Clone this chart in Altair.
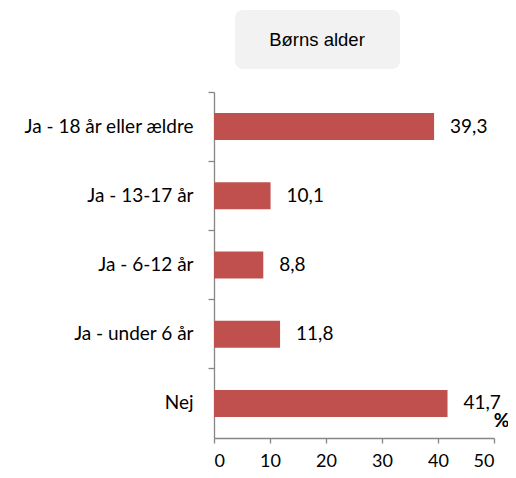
import altair as alt
import pandas as pd

categories = ["Ja - 18 år eller ældre", "Ja - 13-17 år", "Ja - 6-12 år", "Ja - under 6 år", "Nej"]
values = [39.3, 10.1, 8.8, 11.8, 41.7]
labels = [f"{v:.1f}".replace(".", ",") for v in values]
x_ticks = [0, 10, 20, 30, 40, 50]
title_text = "Børns alder"
axis_title = "%"

df = pd.DataFrame({"cat": categories, "val": values, "lab": labels})

FONT = "Lato"
AXC = "#868686"

base = alt.Chart(df)

bars = base.mark_bar(color="#c0504d", height=27).encode(
    y=alt.Y("cat:N", sort=categories,
            scale=alt.Scale(paddingInner=0, paddingOuter=0),
            axis=alt.Axis(title=None, bandPosition=0, labelFont=FONT, labelFontSize=19,
                          labelColor="#000000", labelPadding=15, tickSize=6, tickWidth=1.3,
                          domainWidth=1.3,
                          tickColor=AXC, domainColor=AXC, labelAlign="right")),
    x=alt.X("val:Q", scale=alt.Scale(domain=[0, 50], nice=False),
            axis=alt.Axis(values=x_ticks, grid=False, title=axis_title, titleX=287, titleY=-18,
                          titleFont=FONT, titleFontSize=19, titleFontWeight="bold",
                          titleBaseline="middle", titleAlign="center",
                          labelFont=FONT, labelFontSize=18, labelColor="#000000",
                          labelPadding=9, tickSize=5, tickWidth=1.3, domainWidth=1.3,
                          tickColor=AXC, domainColor=AXC)),
)

text = base.mark_text(align="left", baseline="middle", dx=16, font=FONT, fontSize=19,
                      color="#000000").encode(
    y=alt.Y("cat:N", sort=categories),
    x="val:Q",
    text="lab:N",
)

tdf = pd.DataFrame({"t": [title_text]})
box = alt.Chart(tdf).mark_rect(color="#f2f2f2", cornerRadius=8).encode(
    x=alt.value(21), x2=alt.value(186), y=alt.value(-82), y2=alt.value(-23)
)
ttext = alt.Chart(tdf).mark_text(font="Liberation Sans", fontSize=18.5, color="#000000",
                                 baseline="middle", align="center").encode(
    x=alt.value(103), y=alt.value(-52), text="t:N"
)

chart = alt.layer(bars, text, box, ttext).properties(
    width=280, height=346,
    autosize=alt.AutoSizeParams(type="none"),
    padding={"left": 206, "top": 84, "right": 14, "bottom": 32},
).configure_view(stroke=None)

chart.save("out.html", embed_options={"renderer": "svg", "actions": False})
